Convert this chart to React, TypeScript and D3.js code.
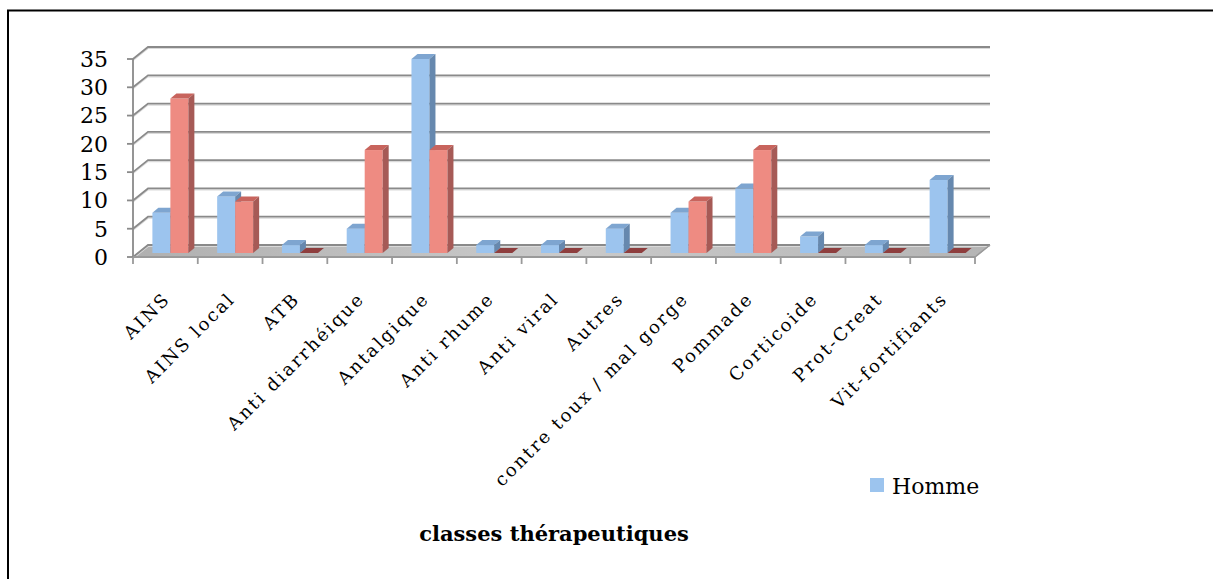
import React from "react";
import * as d3 from "d3";

const categories = [
  "AINS",
  "AINS local",
  "ATB",
  "Anti diarrhéique",
  "Antalgique",
  "Anti rhume",
  "Anti viral",
  "Autres",
  "contre toux / mal gorge",
  "Pommade",
  "Corticoide",
  "Prot-Creat",
  "Vit-fortifiants",
];
const homme = [7.1, 10, 1.4, 4.3, 34.3, 1.4, 1.4, 4.3, 7.1, 11.4, 2.9, 1.4, 12.9];
const femme = [27.3, 9.1, 0, 18.2, 18.2, 0, 0, 0, 9.1, 18.2, 0, 0, 0];
const yTicks = [0, 5, 10, 15, 20, 25, 30, 35];
const seriesNames = ["Homme", "Femme"];
const legendItems = ["Homme"];
const xTitle = "classes thérapeutiques";

const W = 1213;
const H = 579;
const X0 = 133;
const X1 = 975;
const Y0 = 257;
const Y1 = 59;
const DEPTH = { dx: 15, dy: -12 };
const BAR_OFF = { dx: 5, dy: -4 };
const BAR_D = { dx: 6, dy: -5 };

const colors: Record<string, { front: string; top: string; side: string; zero: string }> = {
  Homme: { front: "#9CC4EE", top: "#7EA5D0", side: "#6688AE", zero: "#6688AE" },
  Femme: { front: "#EE8B82", top: "#C8645D", side: "#A65A56", zero: "#8E3E3E" },
};

const serif = "'DejaVu Serif', serif";

export default function App() {
  const x = d3.scaleBand<string>().domain(categories).range([X0, X1]).paddingInner(0).paddingOuter(0);
  const sub = d3.scaleBand<string>().domain(seriesNames).range([0, x.bandwidth()]).paddingInner(0).paddingOuter(0.8);
  const y = d3.scaleLinear().domain([0, 35]).range([Y0, Y1]);
  const values: Record<string, number[]> = { Homme: homme, Femme: femme };

  const poly = (pts: [number, number][]) => "M" + pts.map((p) => p.join(",")).join("L") + "Z";

  const bars: React.ReactNode[] = [];
  categories.forEach((c, i) => {
    seriesNames.forEach((s) => {
      const v = values[s][i];
      const col = colors[s];
      const xl = (x(c) as number) + (sub(s) as number) + BAR_OFF.dx;
      const xr = xl + sub.bandwidth();
      const yb = Y0 + BAR_OFF.dy;
      const yt = y(v) + BAR_OFF.dy;
      const key = `${s}-${i}`;
      if (v <= 0) {
        bars.push(
          <path key={key} d={poly([[xl, yb], [xr, yb], [xr + BAR_D.dx, yb + BAR_D.dy], [xl + BAR_D.dx, yb + BAR_D.dy]])} fill={col.zero} />
        );
        return;
      }
      bars.push(
        <g key={key}>
          <rect x={xl} y={yt} width={xr - xl} height={yb - yt} fill={col.front} />
          <path d={poly([[xl, yt], [xr, yt], [xr + BAR_D.dx, yt + BAR_D.dy], [xl + BAR_D.dx, yt + BAR_D.dy]])} fill={col.top} />
          <path d={poly([[xr, yt], [xr + BAR_D.dx, yt + BAR_D.dy], [xr + BAR_D.dx, yb + BAR_D.dy], [xr, yb]])} fill={col.side} />
        </g>
      );
    });
  });

  const boundaries = [...categories.map((c) => x(c) as number), X1];

  return (
    <svg width={W} height={H} style={{ position: "absolute", left: 0, top: 0, background: "#fff" }}>
      <defs>
        <linearGradient id="floorG" x1="0" y1="0" x2="1" y2="0">
          <stop offset="0" stopColor="#B0B0B0" />
          <stop offset="0.5" stopColor="#CACACA" />
          <stop offset="1" stopColor="#B4B4B4" />
        </linearGradient>
      </defs>
      {/* frame */}
      <path d={`M8,${H}L8,10.5L${W},10.5`} fill="none" stroke="#000" strokeWidth={2} />

      {/* floor */}
      <path
        d={poly([[X0, Y0], [X1, Y0], [X1 + DEPTH.dx, Y0 + DEPTH.dy], [X0 + DEPTH.dx, Y0 + DEPTH.dy]])}
        fill="url(#floorG)"
        stroke="#A8A8A8"
        strokeWidth={1}
      />

      {/* gridlines */}
      {yTicks.map((t) => {
        const yy = y(t);
        return (
          <g key={t}>
            <path
              d={`M${X0},${yy + 1.5}L${X0 + DEPTH.dx},${yy + DEPTH.dy + 1.5}L${X1 + DEPTH.dx},${yy + DEPTH.dy + 1.5}`}
              fill="none"
              stroke="#DADADA"
              strokeWidth={1.2}
            />
            <path
              d={`M${X0},${yy}L${X0 + DEPTH.dx},${yy + DEPTH.dy}L${X1 + DEPTH.dx},${yy + DEPTH.dy}`}
              fill="none"
              stroke="#8A8A8A"
              strokeWidth={1.8}
            />
            <line x1={X0 - 6} x2={X0} y1={yy} y2={yy} stroke="#8A8A8A" strokeWidth={1.8} />
            <text x={108} y={yy} dy="0.36em" textAnchor="end" fontFamily={serif} fontSize={22} fill="#000">
              {t}
            </text>
          </g>
        );
      })}
      <line x1={X1} y1={Y0} x2={X1 + DEPTH.dx} y2={Y0 + DEPTH.dy} stroke="#9A9A9A" strokeWidth={1.6} />

      {/* y axis */}
      <line x1={X0} x2={X0} y1={Y1} y2={Y0} stroke="#8A8A8A" strokeWidth={1.8} />

      {/* bars */}
      {bars}

      {/* x axis */}
      <line x1={X0} x2={X1} y1={Y0} y2={Y0} stroke="#9A9A9A" strokeWidth={1.8} />
      {boundaries.map((b, i) => (
        <line key={i} x1={b} x2={b} y1={Y0} y2={Y0 + 7} stroke="#9A9A9A" strokeWidth={1.8} />
      ))}

      {/* category labels */}
      {categories.map((c) => {
        const cx = (x(c) as number) + x.bandwidth() / 2 + 6;
        const cy = 300;
        return (
          <text
            key={c}
            transform={`translate(${cx},${cy}) rotate(-45)`}
            textAnchor="end"
            fontFamily={serif}
            fontSize={18}
            letterSpacing={2.2}
            fill="#000"
          >
            {c}
          </text>
        );
      })}

      {/* legend */}
      {legendItems.map((s) => (
        <g key={s}>
          <rect x={870} y={478} width={14} height={14} fill={colors[s].front} />
          <text x={892} y={494} fontFamily={serif} fontSize={22} fill="#000">
            {s}
          </text>
        </g>
      ))}

      {/* x title */}
      <text x={554} y={541} textAnchor="middle" fontFamily={serif} fontSize={21} fontWeight="bold" fill="#000">
        {xTitle}
      </text>
    </svg>
  );
}
